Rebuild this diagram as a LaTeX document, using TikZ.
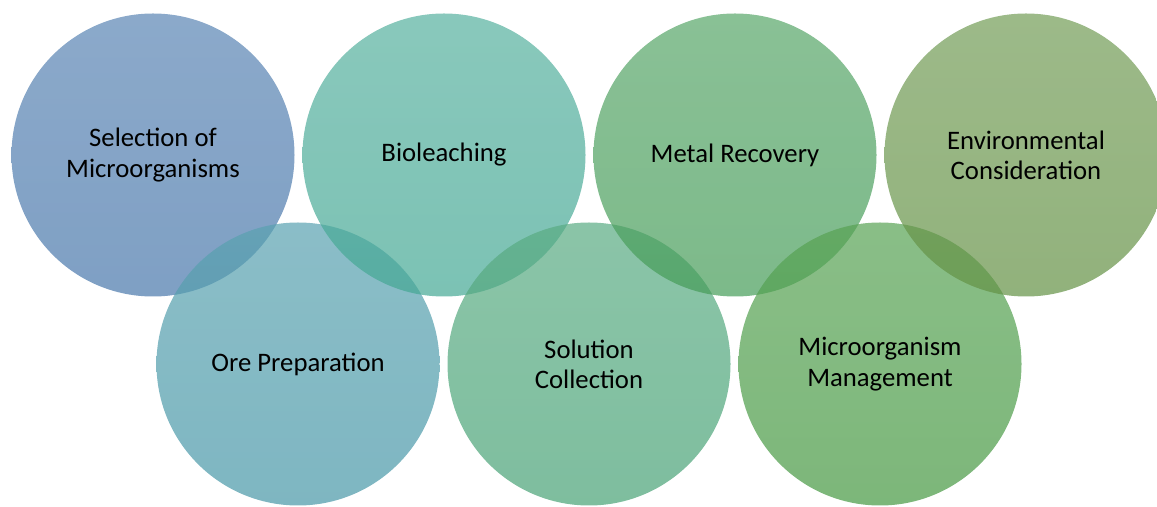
\documentclass[tikz,border=0pt]{standalone}
\usepackage{fontspec}
\setmainfont{Carlito}
\definecolor{selblue}{HTML}{4877AB}
\definecolor{oreteal}{HTML}{4797A7}
\definecolor{leachteal}{HTML}{44A894}
\definecolor{solgreen}{HTML}{47A275}
\definecolor{metgreen}{HTML}{459C58}
\definecolor{mgmtgreen}{HTML}{459841}
\definecolor{envolive}{HTML}{639144}

\begin{document}
\begin{tikzpicture}[
  bubble/.style={circle, minimum size=7.075cm, inner sep=0pt,
    top color=#1!90!white, bottom color=#1, fill opacity=0.7,
    text opacity=1, text=black, align=center,
    font=\fontsize{19}{21.5}\selectfont}]

% Frame
\useasboundingbox (0,0) rectangle (28.925,12.675);

% Top row and bottom row, in process order
\node[bubble=selblue] (select) at (3.825,8.8) {Selection of\\Microorganisms};
\node[bubble=oreteal] (oreprep) at (7.45,3.575) {Ore Preparation};
\node[bubble=leachteal] (leach) at (11.1,8.8) {Bioleaching};
\node[bubble=solgreen] (solution) at (14.725,3.575) {Solution\\Collection};
\node[bubble=metgreen] (metal) at (18.375,8.8) {Metal Recovery};
\node[bubble=mgmtgreen] (mgmt) at (22.0,3.575) {Microorganism\\Management};
\node[bubble=envolive] (environ) at (25.65,8.8) {Environmental\\Consideration};

\end{tikzpicture}
\end{document}
